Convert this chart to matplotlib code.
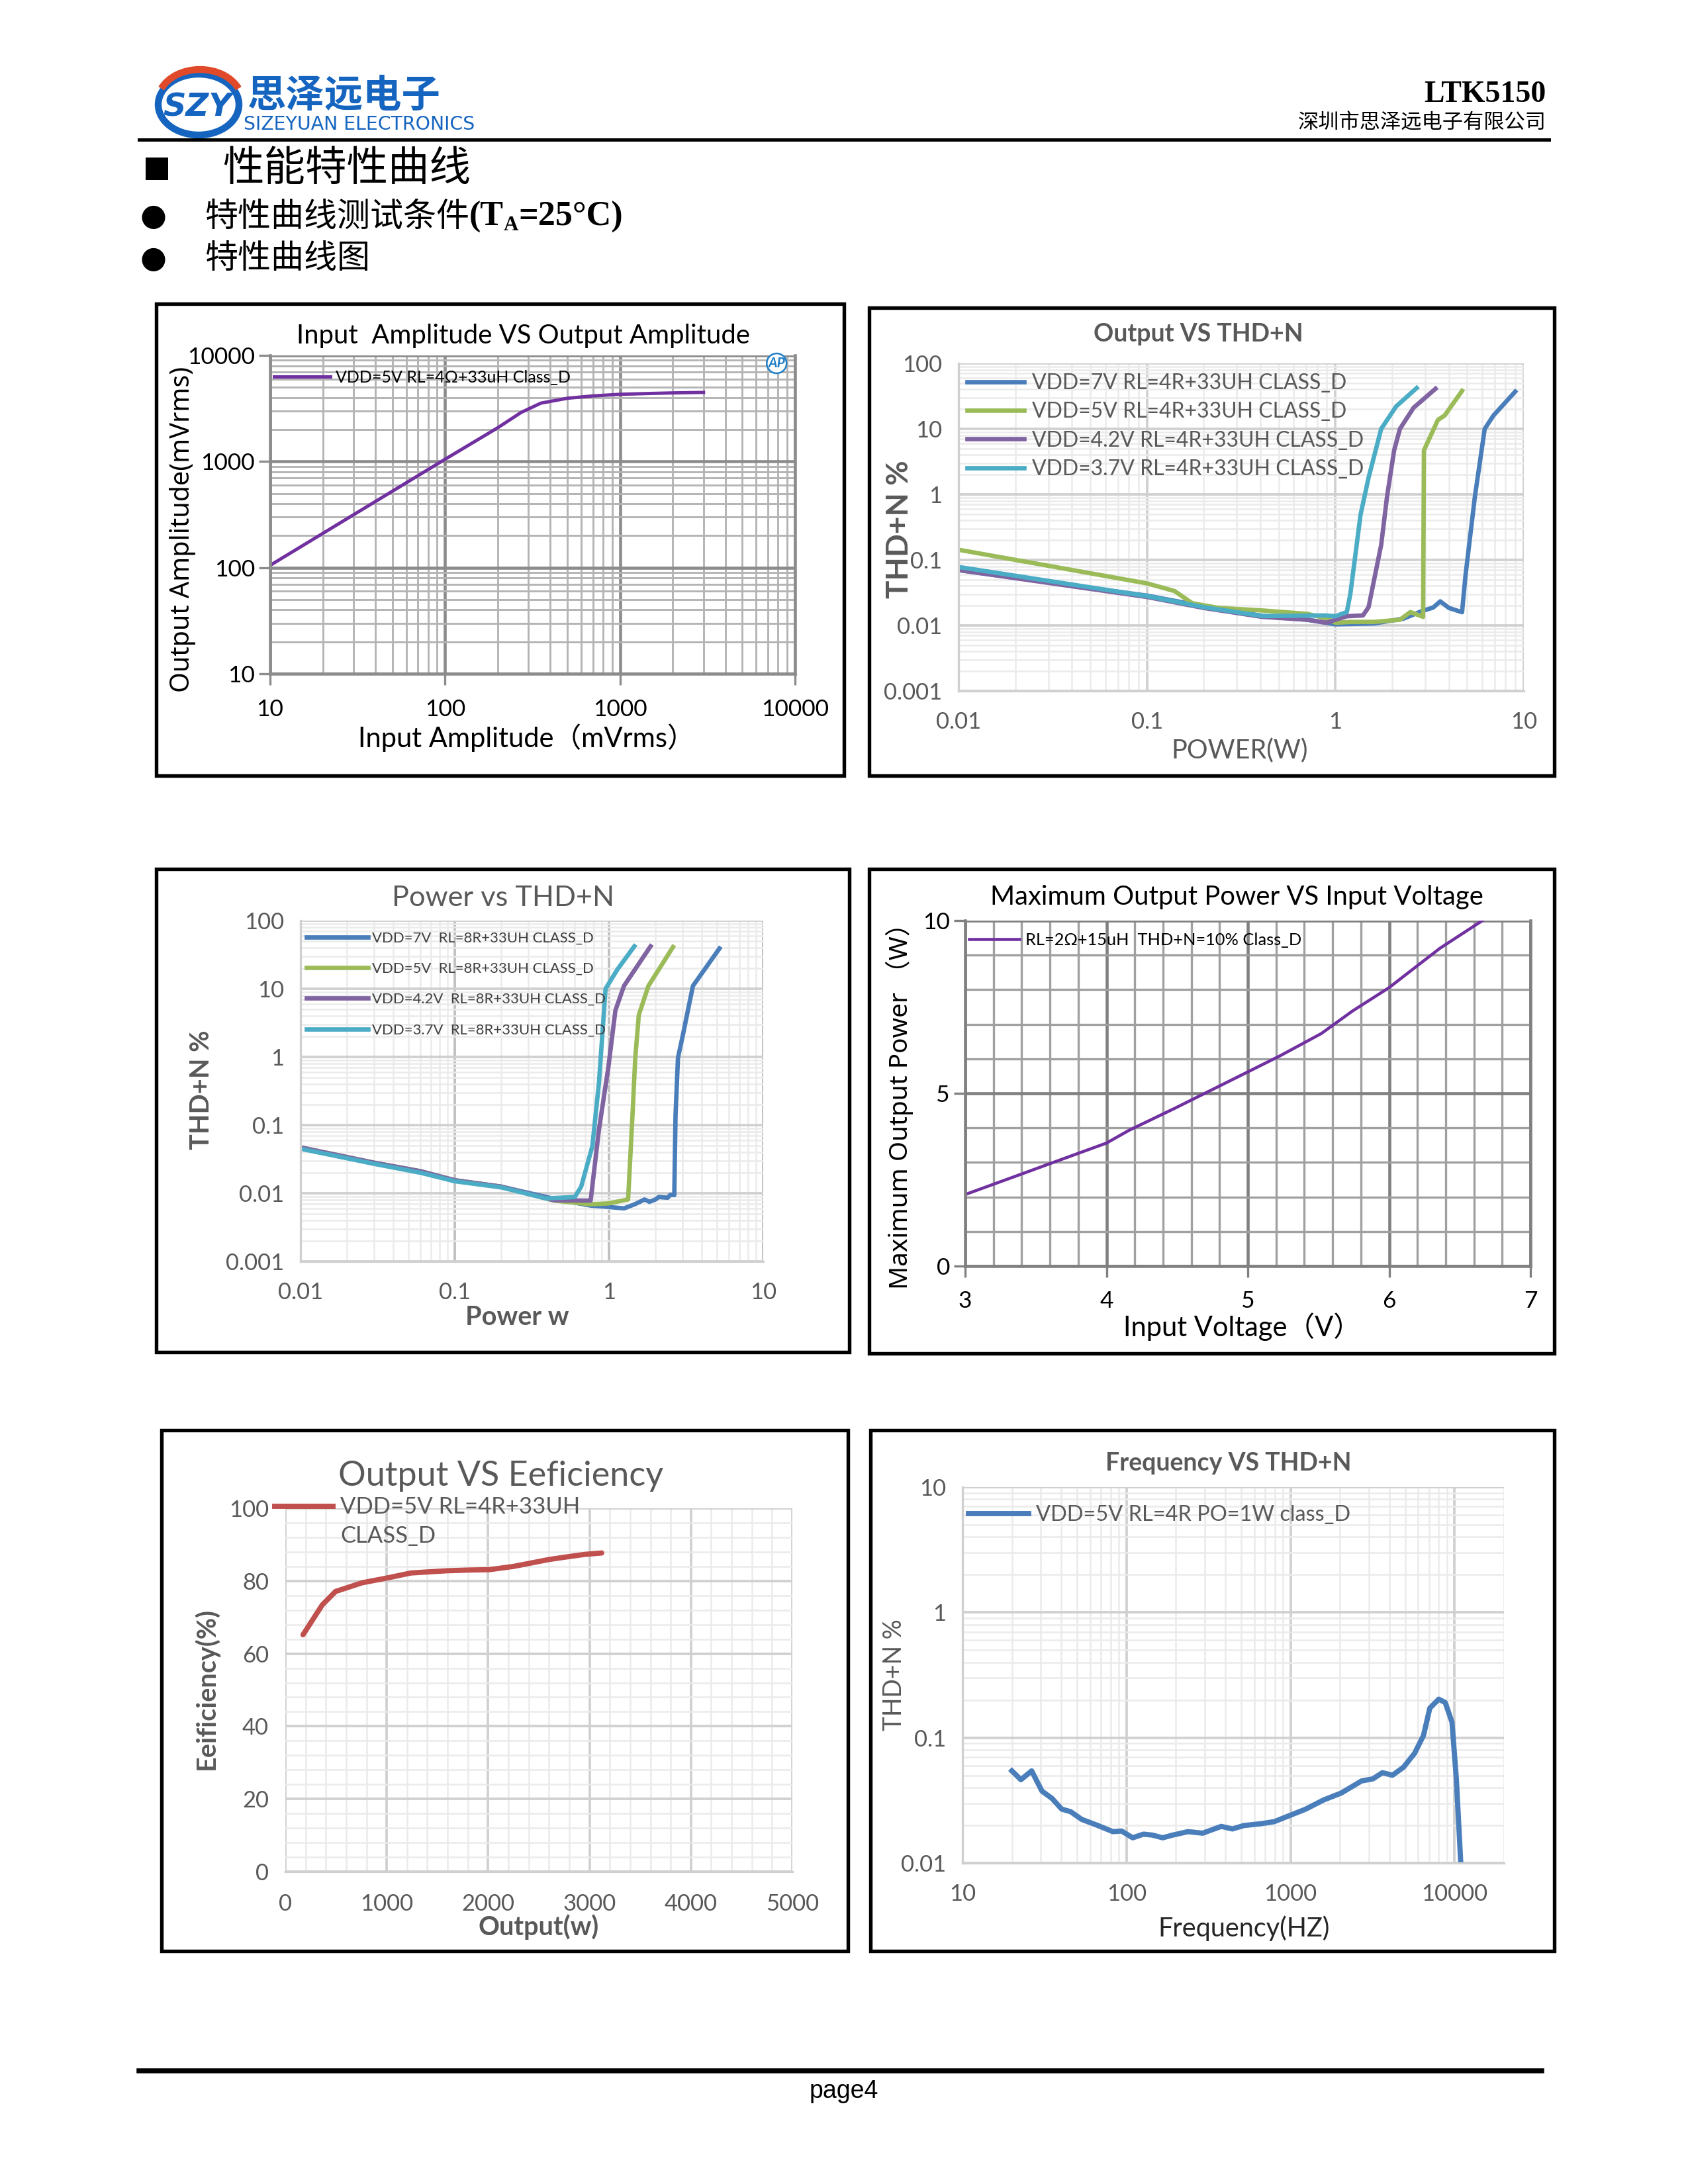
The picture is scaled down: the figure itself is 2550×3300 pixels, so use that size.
import numpy as np
import matplotlib.pyplot as plt
from matplotlib.patches import Rectangle, Ellipse, Arc
from matplotlib.lines import Line2D
from matplotlib.ticker import LogLocator, NullFormatter, MultipleLocator

# ---------------------------------------------------------------
# page / style
# ---------------------------------------------------------------
W, H = 2550, 3300
FONT = ['Lato', 'Noto Sans CJK SC', 'DejaVu Sans']
CJK = ['Noto Sans CJK SC', 'DejaVu Sans']
SERIF = ['Liberation Serif', 'DejaVu Serif']
GRAY_TXT = '#595959'
BLUE = '#4A7EBB'
GREEN = '#9BBB59'
PURPLE = '#8064A2'
AQUA = '#4BACC6'
RED = '#C0504D'
AP_PURPLE = '#7030A0'
LOGO_BLUE = '#1565C0'

plt.rcParams['font.family'] = FONT
plt.rcParams['axes.unicode_minus'] = False

# ---------------------------------------------------------------
# data
# ---------------------------------------------------------------
# 1. input amplitude vs output amplitude (mVrms)
amp_in = [10, 20, 50, 100, 200, 272, 353, 503, 700, 1000, 1500, 2000, 3000]
amp_out = [105, 210, 525, 1050, 2080, 2900, 3550, 3950, 4150, 4300, 4380, 4430, 4480]

# 2. output power vs THD+N, RL=4R
p4_labels = ['VDD=7V RL=4R+33UH CLASS_D', 'VDD=5V RL=4R+33UH CLASS_D',
             'VDD=4.2V RL=4R+33UH CLASS_D', 'VDD=3.7V RL=4R+33UH CLASS_D']
p4_7v_x = [0.01, 0.1, 0.2, 0.41, 0.71, 1.0, 1.6, 2.3, 2.9, 3.3, 3.6, 4.0, 4.7, 4.9, 5.5, 6.2, 6.9, 9.0]
p4_7v_y = [0.07, 0.0285, 0.0196, 0.014, 0.0122, 0.0104, 0.0107, 0.0127, 0.0167, 0.0187, 0.0233,
           0.0185, 0.0159, 0.057, 0.93, 10, 16, 37]
p4_5v_x = [0.01, 0.1, 0.14, 0.174, 0.24, 0.41, 0.71, 0.9, 1.0, 1.2, 1.6, 2.2, 2.5, 2.92, 2.95, 3.5, 3.8, 4.7]
p4_5v_y = [0.143, 0.0438, 0.0335, 0.0218, 0.0185, 0.0169, 0.015, 0.0128, 0.011, 0.0113, 0.0113,
           0.0122, 0.016, 0.0135, 4.7, 13.7, 16, 38]
p4_42_x = [0.01, 0.1, 0.2, 0.41, 0.71, 0.9, 1.0, 1.15, 1.4, 1.5, 1.75, 1.88, 2.05, 2.2, 2.6, 3.4]
p4_42_y = [0.07, 0.0272, 0.0185, 0.0135, 0.0122, 0.011, 0.0122, 0.0138, 0.0142, 0.019, 0.17,
           0.93, 4.7, 10, 21, 41]
p4_37_x = [0.01, 0.1, 0.2, 0.41, 0.88, 1.0, 1.15, 1.2, 1.36, 1.5, 1.75, 2.1, 2.7]
p4_37_y = [0.078, 0.028, 0.019, 0.0139, 0.0142, 0.0138, 0.016, 0.03, 0.49, 1.8, 10, 22, 42]

# 3. power vs THD+N, RL=8R
p8_labels = ['VDD=7V  RL=8R+33UH CLASS_D', 'VDD=5V  RL=8R+33UH CLASS_D',
             'VDD=4.2V  RL=8R+33UH CLASS_D', 'VDD=3.7V  RL=8R+33UH CLASS_D']
p8_7v_x = [0.01, 0.03, 0.06, 0.1, 0.2, 0.44, 0.76, 0.99, 1.25, 1.47, 1.7, 1.83, 2.0, 2.1, 2.4,
           2.5, 2.65, 2.7, 2.8, 3.0, 3.5, 5.2]
p8_7v_y = [0.047, 0.028, 0.021, 0.0155, 0.0125, 0.0083, 0.0066, 0.0063, 0.006, 0.0069, 0.0081,
           0.0075, 0.0081, 0.0088, 0.0086, 0.0095, 0.0094, 0.14, 0.97, 2.0, 11, 39]
p8_5v_x = [0.01, 0.03, 0.06, 0.1, 0.2, 0.44, 0.76, 0.99, 1.33, 1.42, 1.48, 1.56, 1.8, 2.6]
p8_5v_y = [0.047, 0.028, 0.021, 0.0155, 0.0125, 0.0078, 0.0069, 0.0071, 0.0081, 0.14, 0.97, 4.1, 11, 41]
p8_42_x = [0.01, 0.03, 0.06, 0.1, 0.2, 0.44, 0.76, 0.86, 0.99, 1.1, 1.25, 1.86]
p8_42_y = [0.047, 0.028, 0.021, 0.0155, 0.0125, 0.0079, 0.0078, 0.085, 0.7, 4.8, 11, 42]
p8_37_x = [0.01, 0.03, 0.06, 0.1, 0.2, 0.39, 0.6, 0.66, 0.78, 0.86, 0.95, 1.13, 1.46]
p8_37_y = [0.045, 0.027, 0.020, 0.015, 0.0122, 0.0084, 0.0088, 0.0125, 0.049, 0.41, 10, 19, 42]

# 4. max output power vs input voltage
vin = [3.0, 3.41, 3.59, 4.0, 4.16, 4.48, 5.0, 5.23, 5.52, 5.74, 6.0, 6.11, 6.36, 6.66]
pmax = [2.07, 2.68, 2.95, 3.56, 3.93, 4.56, 5.62, 6.09, 6.73, 7.38, 8.06, 8.41, 9.2, 10.0]

# 5. output vs efficiency
eff_x = [175, 364, 495, 758, 1000, 1240, 1590, 1810, 2010, 2250, 2600, 2770, 2950, 3120]
eff_y = [65.2, 73.4, 77.1, 79.5, 80.8, 82.2, 82.8, 83.0, 83.1, 84.0, 85.9, 86.6, 87.3, 87.7]

# 6. frequency vs THD+N
freq = [20, 22.7, 26.4, 30.5, 35.1, 40.3, 45.6, 53.3, 66.4, 82.5, 93.3, 109, 127, 144, 166, 191,
        237, 291, 378, 442, 518, 662, 796, 1000, 1235, 1585, 2038, 2710, 3170, 3630, 4180, 4880,
        5700, 6460, 7060, 8000, 8770, 9640, 10250, 10900]
thd_f = [0.0544, 0.0462, 0.0544, 0.0375, 0.0328, 0.0269, 0.0257, 0.0223, 0.0200, 0.0178, 0.018,
         0.0159, 0.0170, 0.0167, 0.0159, 0.0167, 0.0178, 0.0173, 0.0196, 0.0187, 0.0199, 0.0206,
         0.0214, 0.0241, 0.0269, 0.0318, 0.0362, 0.0452, 0.0469, 0.0526, 0.0502, 0.0581, 0.075,
         0.104, 0.172, 0.203, 0.191, 0.133, 0.0467, 0.0101]


def rect(x0, y0, x1, y1):
    return [x0 / W, 1 - y1 / H, (x1 - x0) / W, (y1 - y0) / H]


def ftext(x, y, s, **kw):
    kw.setdefault('ha', 'center')
    kw.setdefault('va', 'center')
    return fig.text(x / W, 1 - y / H, s, **kw)


def chain(x, y, parts):
    # lay text pieces one after the other on a line (pixel coords)
    r = fig.canvas.get_renderer()
    for s, dy, kw in parts:
        t = ftext(x, y + dy, s, ha='left', **kw)
        x += t.get_window_extent(r).width


def box(x0, y0, x1, y1):
    fig.add_artist(Rectangle((x0 / W, 1 - y1 / H), (x1 - x0) / W, (y1 - y0) / H,
                             transform=fig.transFigure, fill=False, ec='black', lw=1.3))


def hline(x0, x1, y, lw):
    fig.add_artist(Line2D([x0 / W, x1 / W], [1 - y / H, 1 - y / H],
                          transform=fig.transFigure, color='black', lw=lw))


def excel_log(ax, xlim, ylim, tsize=8.3):
    ax.set_xscale('log')
    ax.set_yscale('log')
    ax.set_xlim(*xlim)
    ax.set_ylim(*ylim)
    ax.xaxis.set_minor_locator(LogLocator(subs=np.arange(2, 10)))
    ax.yaxis.set_minor_locator(LogLocator(subs=np.arange(2, 10)))
    ax.xaxis.set_minor_formatter(NullFormatter())
    ax.yaxis.set_minor_formatter(NullFormatter())
    ax.grid(True, which='major', color='#D0D0D0', lw=0.9)
    ax.grid(True, which='minor', color='#EBEBEB', lw=0.6)
    for s in ax.spines.values():
        s.set_visible(False)
    ax.spines['left'].set_visible(True)
    ax.spines['bottom'].set_visible(True)
    ax.spines['left'].set_color('#D0D0D0')
    ax.spines['bottom'].set_color('#D0D0D0')
    ax.tick_params(which='both', length=0, labelsize=tsize, labelcolor=GRAY_TXT)
    ax.tick_params(axis='y', pad=6)
    ax.tick_params(axis='x', pad=7.5)
    ax.set_axisbelow(True)


fig = plt.figure(figsize=(8.5, 11), dpi=300)

# ---------------------------------------------------------------
# header
# ---------------------------------------------------------------
fig.add_artist(Ellipse((300 / W, 1 - 158 / H), 122 / W, 92 / H, transform=fig.transFigure,
                       fc='white', ec=LOGO_BLUE, lw=2.5))
fig.add_artist(Arc((302 / W, 1 - 154 / H), 128 / W, 98 / H, theta1=15, theta2=165,
                   transform=fig.transFigure, color='#E04A2A', lw=2.5))
ftext(298, 162, 'SZY', fontsize=11.5, color=LOGO_BLUE, weight='bold', style='italic',
      family=['DejaVu Sans'])
ftext(374, 145, '思泽远电子', ha='left', fontsize=14, color=LOGO_BLUE, weight='bold', family=CJK)
ftext(368, 188, 'SIZEYUAN ELECTRONICS', ha='left', fontsize=6.8, color=LOGO_BLUE,
      family=['Liberation Sans Narrow', 'DejaVu Sans'])
ftext(2336, 143, 'LTK5150', ha='right', fontsize=11, weight='bold', family=SERIF)
ftext(2336, 186, '深圳市思泽远电子有限公司', ha='right', fontsize=7.5, family=CJK)
hline(210, 2340, 211, 1.2)

fig.add_artist(Rectangle((220 / W, 1 - 272 / H), 34 / W, 34 / H, transform=fig.transFigure,
                         fc='black', ec='none'))
ftext(336, 255, '性能特性曲线', ha='left', fontsize=15, family=CJK)
ftext(232, 328, '●', fontsize=11, family=['DejaVu Sans'])
chain(309, 328, [('特性曲线测试条件', 0, dict(fontsize=12, family=CJK)),
                 ('(T', 0, dict(fontsize=12.5, weight='bold', family=SERIF)),
                 ('A', 12, dict(fontsize=7.5, weight='bold', family=SERIF)),
                 ('=25°C)', 0, dict(fontsize=12.5, weight='bold', family=SERIF))])
ftext(232, 391, '●', fontsize=11, family=['DejaVu Sans'])
ftext(309, 391, '特性曲线图', ha='left', fontsize=12, family=CJK)

# ---------------------------------------------------------------
# chart boxes
# ---------------------------------------------------------------
box(236, 459, 1275, 1172)
box(1313, 465, 2348, 1172)
box(236, 1313, 1283, 2043)
box(1313, 1313, 2348, 2045)
box(244, 2161, 1281, 2948)
box(1315, 2161, 2348, 2948)

# ---------------------------------------------------------------
# 1. Input Amplitude VS Output Amplitude (AP style)
# ---------------------------------------------------------------
ax1 = fig.add_axes(rect(408, 537, 1201, 1018))
ax1.set_xscale('log')
ax1.set_yscale('log')
ax1.set_xlim(10, 10000)
ax1.set_ylim(10, 10000)
ax1.xaxis.set_minor_locator(LogLocator(subs=np.arange(2, 10)))
ax1.yaxis.set_minor_locator(LogLocator(subs=np.arange(2, 10)))
ax1.xaxis.set_minor_formatter(NullFormatter())
ax1.yaxis.set_minor_formatter(NullFormatter())
ax1.set_xticks([10, 100, 1000, 10000], ['10', '100', '1000', '10000'])
ax1.set_yticks([10, 100, 1000, 10000], ['10', '100', '1000', '10000'])
ax1.grid(True, which='major', color='#8C8C8C', lw=1.1)
ax1.grid(True, which='minor', color='#B4B4B4', lw=0.7)
for s in ax1.spines.values():
    s.set_color('#8C8C8C')
    s.set_lw(1.1)
ax1.spines['top'].set_visible(False)
ax1.tick_params(which='major', direction='out', length=4, color='#8C8C8C', labelsize=8.5)
ax1.tick_params(axis='y', pad=1.5)
ax1.tick_params(axis='x', pad=5)
ax1.tick_params(which='minor', length=0)
ax1.set_axisbelow(True)
ax1.plot(amp_in, amp_out, color=AP_PURPLE, lw=1.2, label='VDD=5V RL=4Ω+33uH Class_D')
ax1.legend(loc='upper left', bbox_to_anchor=(-0.005, 0.975), frameon=False, fontsize=6.0,
           handlelength=3.4, handletextpad=0.3, borderaxespad=0)
ax1.text(0.965, 0.975, 'AP', transform=ax1.transAxes, fontsize=5, color='#1E7FC8',
         weight='bold', style='italic', ha='center', va='center',
         bbox=dict(boxstyle='circle,pad=0.1', fc='white', ec='#1E7FC8', lw=0.6))
ftext(791, 507, 'Input  Amplitude VS Output Amplitude', fontsize=9.6)
ftext(276, 800, 'Output Amplitude(mVrms)', fontsize=9.5, rotation=90, family=['Noto Sans'] + CJK)
ftext(795, 1115, 'Input Amplitude（mVrms）', fontsize=10)

# ---------------------------------------------------------------
# 2. Output VS THD+N (RL=4R)
# ---------------------------------------------------------------
ax2 = fig.add_axes(rect(1448, 549, 2302, 1044))
excel_log(ax2, (0.01, 10), (0.001, 100))
ax2.set_xticks([0.01, 0.1, 1, 10], ['0.01', '0.1', '1', '10'])
ax2.set_yticks([0.001, 0.01, 0.1, 1, 10, 100], ['0.001', '0.01', '0.1', '1', '10', '100'])
for xs, ys, c, lab in zip([p4_7v_x, p4_5v_x, p4_42_x, p4_37_x],
                          [p4_7v_y, p4_5v_y, p4_42_y, p4_37_y],
                          [BLUE, GREEN, PURPLE, AQUA], p4_labels):
    ax2.plot(xs, ys, color=c, lw=1.6, label=lab)
ax2.legend(loc='upper left', bbox_to_anchor=(0.0, 0.995), frameon=False, fontsize=7.7,
           handlelength=2.7, handletextpad=0.35, labelspacing=0.41, borderaxespad=0,
           labelcolor=GRAY_TXT)
ftext(1810, 505, 'Output VS THD+N', fontsize=9, weight='bold', color=GRAY_TXT)
ftext(1359, 800, 'THD+N %', fontsize=11, weight='bold', color=GRAY_TXT, rotation=90)
ftext(1873, 1134, 'POWER(W)', fontsize=9.5, color=GRAY_TXT)

# ---------------------------------------------------------------
# 3. Power vs THD+N (RL=8R)
# ---------------------------------------------------------------
ax3 = fig.add_axes(rect(454, 1391, 1153, 1906))
excel_log(ax3, (0.01, 10), (0.001, 100))
ax3.set_xticks([0.01, 0.1, 1, 10], ['0.01', '0.1', '1', '10'])
ax3.set_yticks([0.001, 0.01, 0.1, 1, 10, 100], ['0.001', '0.01', '0.1', '1', '10', '100'])
ax3.grid(True, which='major', axis='x', color='#BFBFBF', lw=0.9)
for xs, ys, c, lab in zip([p8_7v_x, p8_5v_x, p8_42_x, p8_37_x],
                          [p8_7v_y, p8_5v_y, p8_42_y, p8_37_y],
                          [BLUE, GREEN, PURPLE, AQUA], p8_labels):
    ax3.plot(xs, ys, color=c, lw=1.6, label=lab)
ax3.legend(loc='upper left', bbox_to_anchor=(0.0, 0.985), frameon=False, fontsize=5.3,
           handlelength=4.2, handletextpad=0.3, labelspacing=1.19, borderaxespad=0,
           labelcolor='#404040')
ftext(760, 1357, 'Power vs THD+N', fontsize=10.4, color=GRAY_TXT)
ftext(305, 1647, 'THD+N %', fontsize=9.5, weight='bold', color=GRAY_TXT, rotation=90)
ftext(781, 1990, 'Power w', fontsize=9.5, weight='bold', color=GRAY_TXT)

# ---------------------------------------------------------------
# 4. Maximum Output Power VS Input Voltage
# ---------------------------------------------------------------
ax4 = fig.add_axes(rect(1458, 1391, 2312, 1913))
ax4.set_xlim(3, 7)
ax4.set_ylim(0, 10)
ax4.xaxis.set_major_locator(MultipleLocator(1))
ax4.xaxis.set_minor_locator(MultipleLocator(0.2))
ax4.yaxis.set_major_locator(MultipleLocator(5))
ax4.yaxis.set_minor_locator(MultipleLocator(1))
ax4.grid(True, which='major', color='#808080', lw=1.1)
ax4.grid(True, which='minor', color='#A0A0A0', lw=0.8)
for s in ax4.spines.values():
    s.set_color('#808080')
    s.set_lw(1.1)
ax4.spines['top'].set_visible(False)
ax4.tick_params(which='major', direction='out', length=4, color='#808080', labelsize=8.5)
ax4.tick_params(axis='y', pad=1.5)
ax4.tick_params(axis='x', pad=5)
ax4.tick_params(which='minor', length=0)
ax4.set_axisbelow(True)
ax4.plot(vin, pmax, color=AP_PURPLE, lw=1.1, label='RL=2Ω+15uH  THD+N=10% Class_D')
ax4.legend(loc='upper left', bbox_to_anchor=(-0.005, 0.985), frameon=False, fontsize=6.1,
           handlelength=3.0, handletextpad=0.35, borderaxespad=0)
ftext(1868, 1355, 'Maximum Output Power VS Input Voltage', fontsize=9.6)
ftext(1359, 1662, 'Maximum Output Power （W）', fontsize=9.3, rotation=90,
      family=['Noto Sans'] + CJK)
ftext(1876, 2005, 'Input Voltage（V）', fontsize=10)

# ---------------------------------------------------------------
# 5. Output VS Eeficiency
# ---------------------------------------------------------------
ax5 = fig.add_axes(rect(431, 2279, 1197, 2828))
ax5.set_xlim(0, 5000)
ax5.set_ylim(0, 100)
ax5.xaxis.set_major_locator(MultipleLocator(1000))
ax5.xaxis.set_minor_locator(MultipleLocator(200))
ax5.yaxis.set_major_locator(MultipleLocator(20))
ax5.yaxis.set_minor_locator(MultipleLocator(4))
ax5.grid(True, which='major', color='#D0D0D0', lw=0.9)
ax5.grid(True, which='minor', color='#EBEBEB', lw=0.6)
for s in ax5.spines.values():
    s.set_visible(False)
ax5.spines['bottom'].set_visible(True)
ax5.spines['bottom'].set_color('#D0D0D0')
ax5.tick_params(which='both', length=0, labelsize=8.3, labelcolor=GRAY_TXT)
ax5.tick_params(axis='y', pad=6)
ax5.tick_params(axis='x', pad=8)
ax5.set_axisbelow(True)
ax5.plot(eff_x, eff_y, color=RED, lw=1.9, solid_capstyle='round')
fig.add_artist(Line2D([415 / W, 503 / W], [1 - 2276 / H, 1 - 2276 / H], transform=fig.transFigure,
                      color=RED, lw=1.9))
ftext(514, 2277, 'VDD=5V RL=4R+33UH', ha='left', fontsize=8.3, color=GRAY_TXT)
ftext(514, 2321, 'CLASS_D', ha='left', fontsize=8.3, color=GRAY_TXT)
ftext(757, 2230, 'Output VS Eeficiency', fontsize=12.5, color=GRAY_TXT)
ftext(311, 2552, 'Eeificiency(%)', fontsize=9.5, weight='bold', color=GRAY_TXT, rotation=90)
ftext(814, 2912, 'Output(w)', fontsize=9.5, weight='bold', color=GRAY_TXT)

# ---------------------------------------------------------------
# 6. Frequency VS THD+N
# ---------------------------------------------------------------
ax6 = fig.add_axes(rect(1454, 2247, 2272, 2815))
excel_log(ax6, (10, 20000), (0.01, 10))
ax6.set_xticks([10, 100, 1000, 10000], ['10', '100', '1000', '10000'])
ax6.set_yticks([0.01, 0.1, 1, 10], ['0.01', '0.1', '1', '10'])
ax6.plot(freq, thd_f, color=BLUE, lw=1.9, label='VDD=5V RL=4R PO=1W class_D')
ax6.legend(loc='upper left', bbox_to_anchor=(-0.005, 0.975), frameon=False, fontsize=7.8,
           handlelength=2.8, handletextpad=0.35, borderaxespad=0, labelcolor=GRAY_TXT)
ftext(1856, 2211, 'Frequency VS THD+N', fontsize=9, weight='bold', color=GRAY_TXT)
ftext(1351, 2531, 'THD+N %', fontsize=9, color=GRAY_TXT, rotation=90)
ftext(1879, 2914, 'Frequency(HZ)', fontsize=9.5, color='#262626')

# ---------------------------------------------------------------
# footer
# ---------------------------------------------------------------
hline(210, 2329, 3129, 1.8)
ftext(1275, 3160, 'page4', fontsize=9, family=['Liberation Sans'])

fig.savefig('out.png', dpi=300, facecolor='white')
plt.close(fig)
